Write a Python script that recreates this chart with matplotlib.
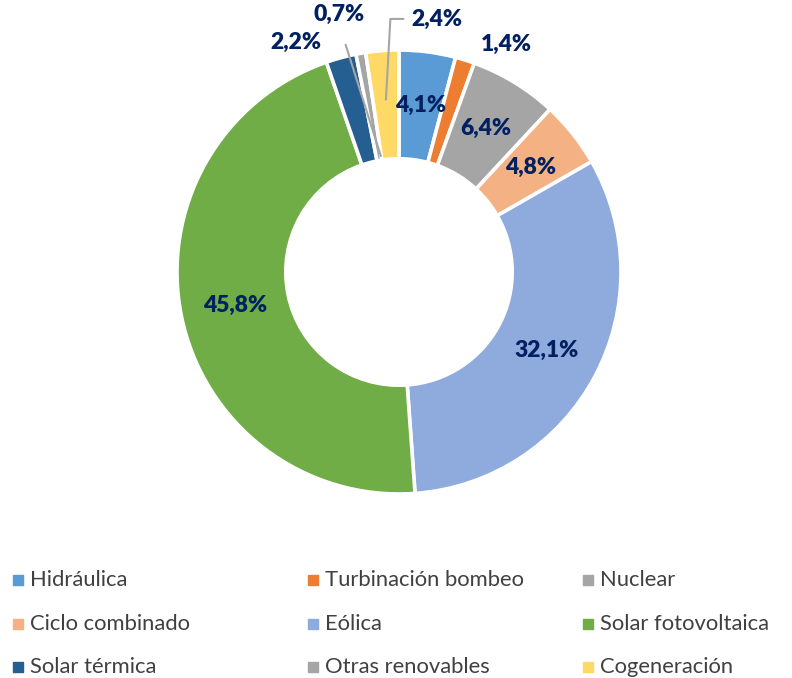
import numpy as np
import matplotlib.pyplot as plt

plt.rcParams['font.family'] = ['Lato', 'DejaVu Sans']

# Data
categories = ['Hidráulica', 'Turbinación bombeo', 'Nuclear', 'Ciclo combinado',
              'Eólica', 'Solar fotovoltaica', 'Solar térmica', 'Otras renovables',
              'Cogeneración']
shares = [4.1, 1.4, 6.4, 4.8, 32.1, 45.8, 2.2, 0.7, 2.4]
colors = ['#5B9BD5', '#ED7D31', '#A5A5A5', '#F4B183', '#8FAADC',
          '#70AD47', '#255E91', '#A5A5A5', '#FFD966']
label_color = '#002060'

W, H = 792, 678
fig = plt.figure(figsize=(W / 100, H / 100), dpi=100)

# donut axes: centre (399, 272) px, outer radius 222 px
cx, cy, R = 399, 272, 222
ax = fig.add_axes([(cx - R) / W, (H - cy - R) / H, 2 * R / W, 2 * R / H])
wedges, _ = ax.pie(shares, colors=colors, startangle=90, counterclock=False,
                   wedgeprops=dict(width=0.49, edgecolor='white', linewidth=2.6))
ax.set_xlim(-1, 1)
ax.set_ylim(-1, 1)
ax.set_aspect('equal')
ax.axis('off')

fracs = np.array(shares) / sum(shares)
ends = np.cumsum(fracs)
mids = 90 - (ends - fracs / 2) * 360

def pol(r, ang):
    a = np.deg2rad(ang)
    return r * np.cos(a), r * np.sin(a)

txt = dict(color=label_color, fontsize=16.5, fontweight='heavy', clip_on=False)
lead = dict(color='#A5A5A5', lw=1.5, clip_on=False)
for i, v in enumerate(shares):
    lab = f'{v:.1f}%'.replace('.', ',')
    ang = mids[i]
    if v >= 4:
        x, y = pol(0.755, ang)
        ax.text(x, y, lab, ha='center', va='center', **txt)
    elif categories[i] == 'Turbinación bombeo':
        x, y = pol(1.09, ang - 2.5)
        ax.text(x, y, lab, ha='left', va='center', **txt)
    elif categories[i] == 'Solar térmica':
        x, y = pol(1.09, ang + 3.5)
        ax.text(x, y, lab, ha='right', va='center', **txt)
    elif categories[i] == 'Otras renovables':
        x0, y0 = pol(0.53, ang - 1)
        x1, y1 = pol(1.05, ang + 3.3)
        ax.plot([x0, x1], [y0, y1], **lead)
        xt, yt = pol(1.19, ang + 3.3)
        ax.text(xt, yt, lab, ha='center', va='center', **txt)
    elif categories[i] == 'Cogeneración':
        x0, y0 = pol(0.78, ang)
        yt = 1.14
        ax.plot([x0, x0 + 0.02, x0 + 0.078], [y0, yt, yt], **lead)
        ax.text(x0 + 0.115, yt, lab, ha='left', va='center', **txt)

# legend drawn in pixel coordinates
lax = fig.add_axes([0, 0, 1, 1])
lax.set_xlim(0, W)
lax.set_ylim(H, 0)
lax.axis('off')
col_x = [18, 313, 588]
row_y = [580, 624, 667]
for i, (name, c) in enumerate(zip(categories, colors)):
    x = col_x[i % 3]
    y = row_y[i // 3]
    lax.scatter([x], [y], marker='s', s=42, color=c)
    lax.text(x + 12, y, name, ha='left', va='center', fontsize=15.8, color='#404040')

fig.savefig('out.png', dpi=100)
